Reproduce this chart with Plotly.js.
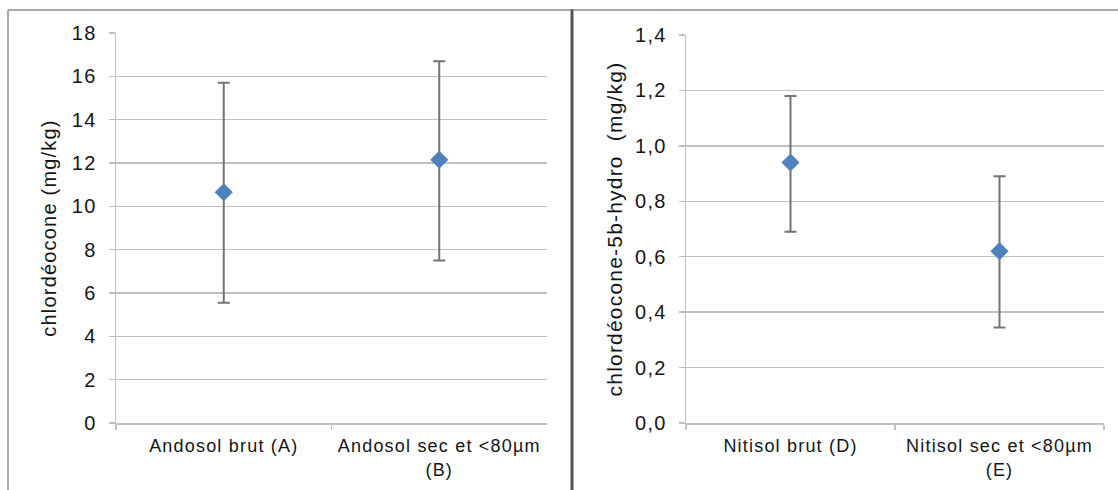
<!DOCTYPE html>
<html>
<head>
<meta charset="utf-8">
<script src="https://cdn.plot.ly/plotly-3.0.1.min.js"></script>
<style>
html,body{margin:0;padding:0;background:#fff;}
#chart{width:1118px;height:490px;}
#chart text{letter-spacing:1.2px;}
</style>
</head>
<body>
<div id="chart"></div>
<script>
// Left panel: chlordécone (Andosol)
const catsLeft = ["Andosol brut (A)", "Andosol sec et &lt;80µm<br>(B)"];
const meanLeft = [10.65, 12.15];
const upperLeft = [15.7, 16.7];
const lowerLeft = [5.55, 7.5];
const yTitleLeft = "chlordéocone (mg/kg)";

// Right panel: chlordécone-5b-hydro (Nitisol)
const catsRight = ["Nitisol brut (D)", "Nitisol sec et &lt;80µm<br>(E)"];
const meanRight = [0.94, 0.62];
const upperRight = [1.18, 0.89];
const lowerRight = [0.69, 0.345];
const yTitleRight = "chlordéocone-5b-hydro&nbsp;&nbsp;(mg/kg)";

const W = 1118, H = 490;
const px = v => v / W;
const py = v => 1 - v / H;

const markerColor = "#4F81BD";
const errColor = "#737373";
const gridColor = "#c0c0c0";
const textColor = "#141414";
const fontFam = "Liberation Sans, Arial, sans-serif";

function trace(cats, mean, up, lo, xa, ya) {
  return {
    type: "scatter", mode: "markers", x: cats, y: mean, xaxis: xa, yaxis: ya,
    marker: {symbol: "diamond", size: 14, color: markerColor},
    error_y: {type: "data", symmetric: false,
      array: up.map((u, i) => u - mean[i]),
      arrayminus: lo.map((l, i) => mean[i] - l),
      color: errColor, thickness: 2, width: 6},
    hoverinfo: "skip", showlegend: false, cliponaxis: false
  };
}

const data = [
  trace(catsLeft, meanLeft, upperLeft, lowerLeft, "x", "y"),
  trace(catsRight, meanRight, upperRight, lowerRight, "x2", "y2")
];

function xaxisCfg(domain, anchor) {
  return {
    domain: domain, anchor: anchor, type: "category",
    showline: true, linecolor: gridColor, linewidth: 1.5,
    showgrid: false, zeroline: false,
    ticks: "outside", tickson: "boundaries", ticklen: 5, tickcolor: gridColor, tickwidth: 1.5,
    ticklabelstandoff: 6,
    tickfont: {family: fontFam, size: 18, color: textColor},
    range: [-0.5, 1.5], fixedrange: true
  };
}
function yaxisCfg(domain, anchor, range, dtick, fmt, title, standoff, titleSize) {
  return {
    domain: domain, anchor: anchor, range: range, dtick: dtick, tick0: 0, tickformat: fmt,
    showline: true, linecolor: gridColor, linewidth: 1.5,
    showgrid: true, gridcolor: gridColor, gridwidth: 1.5, zeroline: false,
    ticks: "outside", ticklen: 6, tickcolor: gridColor, tickwidth: 1.5,
    ticklabelstandoff: 8,
    tickfont: {family: fontFam, size: 20, color: textColor},
    title: {text: title, standoff: standoff, font: {family: fontFam, size: titleSize, color: textColor}},
    automargin: false, fixedrange: true
  };
}

const layout = {
  width: W, height: H,
  margin: {l: 0, r: 0, t: 0, b: 0},
  paper_bgcolor: "#ffffff", plot_bgcolor: "#ffffff",
  separators: ", ",
  xaxis: xaxisCfg([px(116), px(547)], "y"),
  yaxis: yaxisCfg([py(423), py(33)], "x", [0, 18], 2, "d", yTitleLeft, 12, 20),
  xaxis2: xaxisCfg([px(686), px(1104)], "y2"),
  yaxis2: yaxisCfg([py(423), py(35)], "x2", [0, 1.4], 0.2, ".1f", yTitleRight, 10, 21),
  shapes: [
    {type: "line", xref: "paper", yref: "paper", x0: px(8), x1: px(570), y0: py(10), y1: py(10), line: {color: "#a8a8a8", width: 2}},
    {type: "line", xref: "paper", yref: "paper", x0: px(8), x1: px(8), y0: py(10), y1: py(492), line: {color: "#a8a8a8", width: 2}},
    {type: "line", xref: "paper", yref: "paper", x0: px(574), x1: px(1118), y0: py(10), y1: py(10), line: {color: "#a8a8a8", width: 2}},
    {type: "line", xref: "paper", yref: "paper", x0: px(572), x1: px(572), y0: py(9), y1: py(492), line: {color: "#555555", width: 3}}
  ]
};

Plotly.newPlot("chart", data, layout, {displayModeBar: false, staticPlot: true});
</script>
</body>
</html>
